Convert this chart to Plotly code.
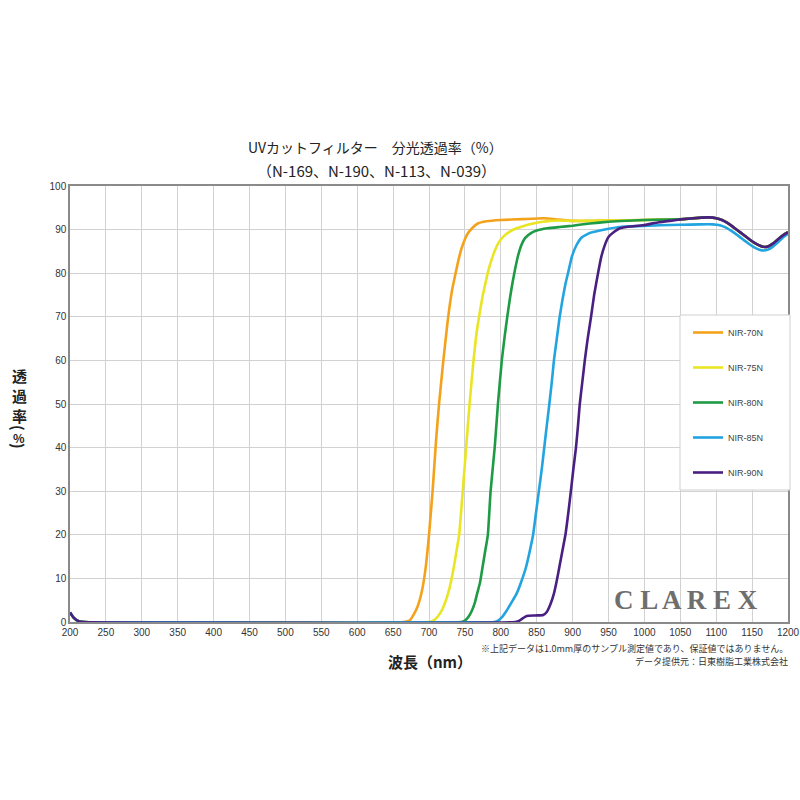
import plotly.graph_objects as go

# ---- data (wavelength nm, transmittance %) ----
series_names = ["NIR-70N", "NIR-75N", "NIR-80N", "NIR-85N", "NIR-90N"]
series_colors = ["#F4A21C", "#EAE524", "#1E9B45", "#22A4E0", "#4A1F82"]

head_wl = [200, 205, 212, 220]
head_t = [2.2, 1.0, 0.2, 0.0]

tail_wl = [1054, 1075, 1090, 1100, 1108, 1115, 1122, 1130, 1138, 1146, 1154, 1161, 1167, 1173, 1180, 1187, 1194, 1200]
tail_t = [92.4, 92.7, 92.8, 92.6, 92.2, 91.6, 90.8, 89.8, 88.8, 87.8, 86.9, 86.3, 86.0, 86.2, 86.9, 87.9, 88.8, 89.4]

wl_70 = [665, 673, 678, 684, 690, 695, 700, 705, 710, 714, 720, 726, 732, 737, 741, 745, 750, 754, 760, 768, 780, 800, 830, 860, 880, 900, 930, 960, 1000, 1030]
t_70 = [0, 0.3, 1.5, 3.5, 7, 12, 20, 30, 42, 50, 60, 69, 76, 80, 83, 85.5, 87.8, 89.1, 90.3, 91.4, 91.9, 92.2, 92.4, 92.6, 92.3, 92.0, 92.0, 92.1, 92.2, 92.3]

wl_75 = [700, 706, 712, 718, 722, 726.5, 731, 735, 738, 742, 747, 751.7, 756.5, 762, 766, 770.7, 775, 779, 783, 788, 792, 797, 803.5, 812, 822, 833, 845, 858, 868, 880, 900, 930, 960, 1000, 1030]
t_75 = [0, 0.3, 1.2, 2.7, 4.3, 6.5, 9.5, 13, 16, 20, 30, 40, 50, 60, 66, 71, 75, 78, 80.8, 83.5, 85.3, 87, 88.4, 89.5, 90.3, 90.9, 91.4, 91.8, 92.0, 92.1, 92.0, 92.0, 92.1, 92.2, 92.3]

wl_80 = [745, 750, 755, 760, 764, 767, 771, 775, 778.5, 782, 785.8, 791.5, 796, 801.4, 805, 809, 813, 816.5, 820, 824, 829, 834, 842, 850, 865, 882, 900, 924, 950, 984, 1000, 1030]
t_80 = [0, 0.3, 1.2, 2.7, 4.5, 6.5, 9, 13, 16.5, 20, 30, 40, 50, 60, 65, 70, 74.5, 78, 81, 84, 86.6, 88.1, 89.2, 89.8, 90.3, 90.6, 90.9, 91.4, 91.8, 92.1, 92.2, 92.3]

wl_85 = [790, 795, 801, 808.5, 815, 822, 828, 835, 840, 845, 849, 853, 857, 860.5, 864, 867.6, 871, 874, 878, 882, 886, 890, 895, 899, 905, 912.6, 925, 938, 950, 966, 990, 1022, 1050, 1077, 1095, 1105, 1113, 1120, 1128, 1136, 1145, 1153, 1160, 1166, 1172, 1179, 1186, 1193, 1200]
t_85 = [0, 0.2, 1, 2.7, 4.5, 6.5, 9, 12.5, 16, 20, 25, 30, 35, 40, 45, 50, 55, 60, 65, 70, 74, 77.5, 81, 83.8, 86.3, 88.2, 89.3, 89.8, 90.2, 90.6, 90.8, 91.0, 91.1, 91.2, 91.2, 91.0, 90.5, 89.8, 88.9, 87.9, 86.8, 85.9, 85.4, 85.2, 85.4, 86.1, 87.1, 88.2, 89.0]

wl_90 = [820, 826, 831, 836, 848, 859, 864, 869, 874, 878, 882, 886, 890, 894, 897.6, 901, 904.7, 907.5, 910, 913.5, 917, 921, 925.7, 930, 936, 940, 945, 950, 958, 966, 980, 998, 1020, 1040]
t_90 = [0, 0.3, 0.9, 1.4, 1.5, 1.6, 2.3, 4, 6.5, 9.5, 13, 16.5, 20, 25, 30, 35, 40, 45, 50, 55, 60, 65, 70, 75, 80.5, 83.8, 86.5, 88.3, 89.5, 90.3, 90.7, 91.0, 91.7, 92.1]

x_ticks = list(range(200, 1201, 50))
y_ticks = list(range(0, 101, 10))

series = [
    (head_wl + wl_70 + tail_wl, head_t + t_70 + tail_t),
    (head_wl + wl_75 + tail_wl, head_t + t_75 + tail_t),
    (head_wl + wl_80 + tail_wl, head_t + t_80 + tail_t),
    (head_wl + wl_85, head_t + t_85),
    (head_wl + wl_90 + tail_wl, head_t + t_90 + tail_t),
]

JP = "Noto Sans CJK JP"

fig = go.Figure()
for i, (name, color, (xs, ys)) in enumerate(zip(series_names, series_colors, series)):
    fig.add_trace(go.Scatter(
        x=xs, y=ys, mode="lines", name=name,
        line=dict(color=color, width=2.6, shape="spline", smoothing=0.4),
        legendgroup=f"g{i}",
    ))

# plot area in px: left 70, right 788, top 186, bottom 622
def px_x(p):
    return (p - 70) / 718.0

def px_y(p):
    return (622 - p) / 436.0

fig.update_layout(
    width=800, height=800, autosize=False,
    margin=dict(l=70, r=12, t=186, b=178, pad=0),
    paper_bgcolor="white", plot_bgcolor="white",
    font=dict(family=JP, color="#333333"),
    showlegend=True,
    legend=dict(
        x=px_x(688), y=px_y(318), xanchor="left", yanchor="top",
        bgcolor="rgba(0,0,0,0)", borderwidth=0,
        font=dict(family="Liberation Sans", size=9, color="#444444"),
        tracegroupgap=16, itemwidth=30, traceorder="grouped",
    ),
    xaxis=dict(
        range=[200, 1200], tickvals=x_ticks, ticktext=[str(v) for v in x_ticks],
        showgrid=True, gridcolor="#d2d2d2", gridwidth=1,
        showline=True, linecolor="#8a8a8a", linewidth=1.5, mirror=True,
        ticks="", zeroline=False, automargin=False,
        tickfont=dict(family="Liberation Sans", size=10, color="#333333"),
    ),
    yaxis=dict(
        range=[0, 100], tickvals=y_ticks, ticktext=[str(v) for v in y_ticks],
        showgrid=True, gridcolor="#d2d2d2", gridwidth=1,
        showline=True, linecolor="#8a8a8a", linewidth=1.5, mirror=True,
        ticks="", zeroline=False, automargin=False,
        tickfont=dict(family="Liberation Sans", size=10, color="#333333"),
    ),
    shapes=[
        dict(type="rect", xref="paper", yref="paper",
             x0=px_x(680), x1=px_x(790), y0=px_y(490), y1=px_y(315),
             fillcolor="white", line=dict(color="#cfcfcf", width=1), layer="above"),
    ],
)

annotations = [
    dict(text="UVカットフィルター　分光透過率（%）", x=px_x(375), y=px_y(147),
         font=dict(family=JP, size=14, color="#222222")),
    dict(text="（N-169、N-190、N-113、N-039）", x=px_x(376), y=px_y(170),
         font=dict(family=JP, size=15, color="#222222")),
    dict(text="<b>波長（nm）</b>", x=px_x(430), y=px_y(661),
         font=dict(family=JP, size=15, color="#222222")),
    dict(text="<b>透</b>", x=px_x(19), y=px_y(375),
         font=dict(family=JP, size=15, color="#222222")),
    dict(text="<b>過</b>", x=px_x(19), y=px_y(395),
         font=dict(family=JP, size=15, color="#222222")),
    dict(text="<b>率</b>", x=px_x(19), y=px_y(415),
         font=dict(family=JP, size=15, color="#222222")),
    dict(text="<b>(</b>", x=px_x(19), y=px_y(428), textangle=90,
         font=dict(family=JP, size=15, color="#222222")),
    dict(text="<b>%</b>", x=px_x(19), y=px_y(437),
         font=dict(family=JP, size=12, color="#222222")),
    dict(text="<b>)</b>", x=px_x(19), y=px_y(446), textangle=90,
         font=dict(family=JP, size=15, color="#222222")),
    dict(text="※上記データは1.0mm厚のサンプル測定値であり、保証値ではありません。", x=px_x(790), y=px_y(648),
         xanchor="right", font=dict(family=JP, size=9, color="#333333")),
    dict(text="データ提供元：日東樹脂工業株式会社", x=px_x(790), y=px_y(661),
         xanchor="right", font=dict(family=JP, size=9, color="#333333")),
    dict(text="<b>C L A R E X</b>", x=px_x(686), y=px_y(600),
         font=dict(family="Liberation Serif", size=27, color="#6e6e6e")),
]
for a in annotations:
    a.setdefault("xanchor", "center")
    a.update(xref="paper", yref="paper", yanchor="middle", showarrow=False)
    fig.add_annotation(**a)

fig.write_html(
    "out.html",
    config={"responsive": False, "displayModeBar": False},
    post_script="document.body.style.margin='0px';document.body.style.overflow='hidden';",
)
